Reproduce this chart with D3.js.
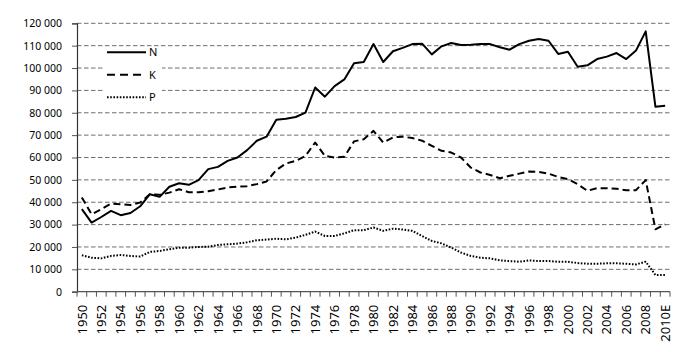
<!DOCTYPE html>
<html>
<head>
<meta charset="utf-8">
<script src="https://cdn.jsdelivr.net/npm/d3@7"></script>
<style>
  body { margin: 0; background: #fff; }
  svg text { font-family: "Noto Sans", "Open Sans", sans-serif; font-size: 10.5px; fill: #000; }
</style>
</head>
<body>
<svg id="chart" width="700" height="352"></svg>
<script>
const years = d3.range(1950, 2010).map(String).concat(["2010E"]);

const seriesN = [36900, 30900, 33400, 36100, 34200, 35200, 38200, 43600, 42400, 46900,
  48500, 47800, 49900, 54800, 55800, 58500, 60000, 63300, 67500, 69300,
  76900, 77300, 78100, 80100, 91300, 87200, 91900, 94900, 102100, 102700,
  110700, 102700, 107500, 109000, 110700, 110900, 106100, 109700, 111200, 110300,
  110400, 110700, 110700, 109300, 108200, 110700, 112200, 113000, 112200, 106300,
  107300, 100600, 101200, 104000, 105100, 106700, 104000, 107800, 116400, 82700,
  83100];

const seriesK = [42100, 34600, 36900, 39400, 39100, 38800, 39900, 43600, 43300, 44300,
  45800, 44500, 44500, 44900, 45700, 46600, 47000, 47200, 48100, 49300,
  54400, 57300, 58500, 60700, 66700, 60700, 60000, 60300, 67200, 68200,
  71900, 66700, 69000, 69300, 68700, 67500, 65200, 63000, 62200, 60000,
  55500, 53300, 52200, 50700, 51800, 52800, 53700, 53600, 52800, 51300,
  50300, 48100, 45100, 46300, 46300, 46000, 45400, 45400, 49900, 27900,
  30100];

const seriesP = [16300, 15200, 14900, 16000, 16400, 16000, 15700, 17800, 18200, 19000,
  19700, 19700, 20000, 20100, 20900, 21200, 21500, 22100, 23000, 23300,
  23700, 23400, 24200, 25400, 26900, 24900, 24900, 26100, 27500, 27500,
  28700, 27200, 28200, 27800, 27200, 24900, 22700, 21600, 19700, 17500,
  16000, 15200, 14900, 14000, 13700, 13400, 14000, 13700, 13700, 13400,
  13400, 12800, 12500, 12500, 12700, 12700, 12500, 12200, 13400, 7500,
  7500];

const yTicks = d3.range(0, 120001, 10000);
const seriesNames = ["N", "K", "P"];

const styles = {
  N: { dash: null, width: 2 },
  K: { dash: "7,4", width: 2 },
  P: { dash: "1.6,1.6", width: 2 }
};

const svg = d3.select("#chart");
const plotLeft = 77, plotRight = 670, plotTop = 23.3, plotBottom = 291.7;

const x = d3.scaleBand().domain(years).range([plotLeft, plotRight]).padding(0);
const y = d3.scaleLinear().domain([0, 120000]).range([plotBottom, plotTop]);

const fmt = v => d3.format(",")(v).replace(/,/g, " ");

// grid lines
svg.append("g")
  .selectAll("line")
  .data(yTicks.filter(v => v > 0))
  .join("line")
    .attr("x1", plotLeft).attr("x2", plotRight)
    .attr("y1", d => y(d)).attr("y2", d => y(d))
    .attr("stroke", "#6e6e6e")
    .attr("stroke-width", 1)
    .attr("stroke-dasharray", "4.5,2.5");

// y axis
const yAxis = svg.append("g")
  .attr("transform", `translate(${plotLeft},0)`)
  .call(d3.axisLeft(y).tickValues(yTicks).tickFormat(fmt).tickSize(5).tickPadding(10));
yAxis.select(".domain").attr("stroke", "#333").attr("stroke-width", 1.2);
yAxis.selectAll(".tick line").attr("stroke", "#555");
yAxis.selectAll("text").attr("fill", "#000").style("font-size", "10.5px");

// x axis labels, every second year
const xAxis = svg.append("g")
  .attr("transform", `translate(0,${plotBottom})`)
  .call(d3.axisBottom(x).tickValues(years.filter((d, i) => i % 2 === 0)).tickSize(0).tickPadding(0));
xAxis.select(".domain").remove();
xAxis.selectAll("text")
  .attr("transform", "rotate(-90)")
  .attr("text-anchor", "end")
  .attr("x", -13)
  .attr("y", 0)
  .attr("dy", "0.36em")
  .attr("fill", "#000")
  .style("font-size", "13px");

// x axis line and ticks between categories
svg.append("line")
  .attr("x1", plotLeft).attr("x2", plotRight)
  .attr("y1", plotBottom).attr("y2", plotBottom)
  .attr("stroke", "#555").attr("stroke-width", 1.2);
const edges = years.map(d => x(d)).concat([plotRight]);
svg.append("g")
  .selectAll("line")
  .data(edges)
  .join("line")
    .attr("x1", d => d).attr("x2", d => d)
    .attr("y1", plotBottom).attr("y2", plotBottom + 5)
    .attr("stroke", "#555");

// lines
const line = d3.line()
  .x((d, i) => x(years[i]) + x.bandwidth() / 2)
  .y(d => y(d));

const data = { N: seriesN, K: seriesK, P: seriesP };
seriesNames.forEach(name => {
  svg.append("path")
    .datum(data[name])
    .attr("d", line)
    .attr("fill", "none")
    .attr("stroke", "#000")
    .attr("stroke-width", styles[name].width)
    .attr("stroke-linejoin", "round")
    .attr("stroke-dasharray", styles[name].dash);
});

// legend
const legend = svg.append("g");
legend.append("rect")
  .attr("x", 103).attr("y", 47).attr("width", 59).attr("height", 61)
  .attr("fill", "#fff");
seriesNames.forEach((name, i) => {
  const ly = 52.3 + i * 22.5;
  legend.append("line")
    .attr("x1", 107).attr("x2", 146)
    .attr("y1", ly).attr("y2", ly)
    .attr("stroke", "#000")
    .attr("stroke-width", styles[name].width)
    .attr("stroke-dasharray", name === "K" ? "8,5" : styles[name].dash);
  legend.append("text")
    .attr("x", 149).attr("y", ly)
    .attr("dy", "0.38em")
    .style("font-size", "11px")
    .text(name);
});
</script>
</body>
</html>
